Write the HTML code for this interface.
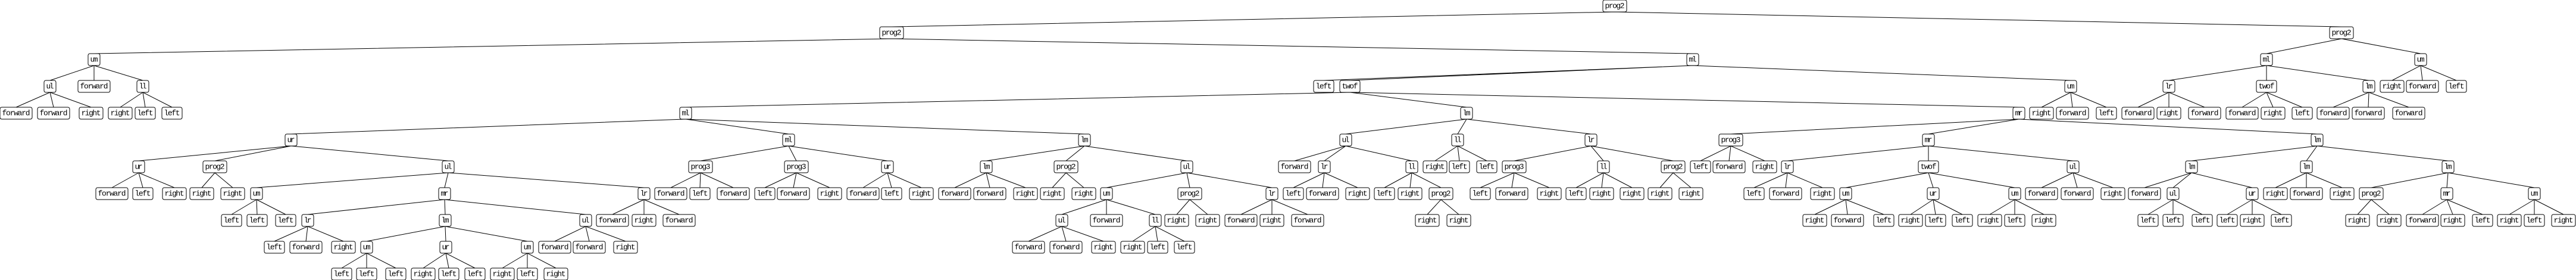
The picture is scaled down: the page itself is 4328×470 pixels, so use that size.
<!DOCTYPE html>
<html><head><meta charset="utf-8"><style>
html,body{margin:0;padding:0;background:#fff;}
svg{display:block;}
rect{fill:#fff;stroke:#000;stroke-width:1;}
text{font-family:"Liberation Mono",monospace;font-size:13px;text-anchor:middle;dominant-baseline:central;fill:#000;}
path{stroke:#000;stroke-width:1;fill:none;}
</style></head><body>
<svg width="4328" height="470" viewBox="0 0 4328 470" xmlns="http://www.w3.org/2000/svg">
<path d="
M2713 20L1498 45M2713 20L3934 45
M1498 65L158 90M1498 65L2844 90
M158 110L84 135M158 110L158 135M158 110L240 135
M84 155L27 180M84 155L90 180M84 155L153 180
M240 155L202 180M240 155L244 180M240 155L289 180
M2844 110L2224 135M2844 110L2268 135M2844 110L3479 135
M2268 155L1152 180M2268 155L2464 180M2268 155L3392 180
M1152 200L489 225M1152 200L1325 225M1152 200L1822 225
M489 245L233 270M489 245L361 270M489 245L753 270
M233 290L188 315M233 290L240 315M233 290L293 315
M361 290L339 315M361 290L391 315
M753 290L431 315M753 290L747 315M753 290L1082 315
M431 335L389 360M431 335L432 360M431 335L480 360
M747 335L517 360M747 335L748 360M747 335L984 360
M517 380L461 405M517 380L514 405M517 380L577 405
M748 380L616 405M748 380L749 405M748 380L886 405
M616 425L574 450M616 425L616 450M616 425L665 450
M749 425L711 450M749 425L754 450M749 425L798 450
M886 425L844 450M886 425L886 450M886 425L934 450
M984 380L932 405M984 380L990 405M984 380L1051 405
M1082 335L1029 360M1082 335L1082 360M1082 335L1141 360
M1325 245L1177 270M1325 245L1338 270M1325 245L1491 270
M1177 290L1127 315M1177 290L1176 315M1177 290L1232 315
M1338 290L1285 315M1338 290L1333 315M1338 290L1394 315
M1491 290L1450 315M1491 290L1498 315M1491 290L1548 315
M1822 245L1657 270M1822 245L1791 270M1822 245L1994 270
M1657 290L1604 315M1657 290L1663 315M1657 290L1723 315
M1791 290L1768 315M1791 290L1821 315
M1994 290L1859 315M1994 290L1999 315M1994 290L2137 315
M1859 335L1784 360M1859 335L1859 360M1859 335L1941 360
M1784 380L1728 405M1784 380L1791 405M1784 380L1854 405
M1941 380L1903 405M1941 380L1945 405M1941 380L1990 405
M1999 335L1977 360M1999 335L2029 360
M2137 335L2085 360M2137 335L2137 360M2137 335L2197 360
M2464 200L2261 225M2464 200L2449 225M2464 200L2673 225
M2261 245L2175 270M2261 245L2225 270M2261 245L2372 270
M2225 290L2173 315M2225 290L2222 315M2225 290L2281 315
M2372 290L2326 315M2372 290L2369 315M2372 290L2421 315
M2421 335L2398 360M2421 335L2451 360
M2449 245L2411 270M2449 245L2452 270M2449 245L2498 270
M2673 245L2544 270M2673 245L2694 270M2673 245L2811 270
M2544 290L2487 315M2544 290L2540 315M2544 290L2603 315
M2694 290L2648 315M2694 290L2691 315M2694 290L2742 315
M2811 290L2789 315M2811 290L2841 315
M3392 200L2908 225M3392 200L3240 225M3392 200L3893 225
M2908 245L2857 270M2908 245L2905 270M2908 245L2965 270
M3240 245L3003 270M3240 245L3240 270M3240 245L3483 270
M3003 290L2947 315M3003 290L3000 315M3003 290L3062 315
M3240 290L3101 315M3240 290L3248 315M3240 290L3385 315
M3101 335L3049 360M3101 335L3104 360M3101 335L3165 360
M3248 335L3210 360M3248 335L3252 360M3248 335L3297 360
M3385 335L3343 360M3385 335L3385 360M3385 335L3434 360
M3483 290L3430 315M3483 290L3490 315M3483 290L3550 315
M3893 245L3682 270M3893 245L3875 270M3893 245L4113 270
M3682 290L3603 315M3682 290L3651 315M3682 290L3784 315
M3651 335L3609 360M3651 335L3651 360M3651 335L3700 360
M3784 335L3742 360M3784 335L3784 360M3784 335L3833 360
M3875 290L3823 315M3875 290L3875 315M3875 290L3935 315
M4113 290L3984 315M4113 290L4111 315M4113 290L4258 315
M3984 335L3961 360M3984 335L4014 360
M4111 335L4070 360M4111 335L4121 360M4111 335L4171 360
M4258 335L4216 360M4258 335L4258 360M4258 335L4307 360
M3479 155L3430 180M3479 155L3482 180M3479 155L3539 180
M3934 65L3808 90M3934 65L4067 90
M3808 110L3644 135M3808 110L3808 135M3808 110L3980 135
M3644 155L3592 180M3644 155L3644 180M3644 155L3704 180
M3808 155L3767 180M3808 155L3819 180M3808 155L3868 180
M3980 155L3920 180M3980 155L3979 180M3980 155L4047 180
M4067 110L4019 135M4067 110L4070 135M4067 110L4127 135
"/>
<!-- row 0 -->
<g transform="translate(2713 10)"><rect x="-20" y="-10" width="40" height="20" rx="3"/><text textLength="33">prog2</text></g>
<!-- row 1 -->
<g transform="translate(1498 55)"><rect x="-20" y="-10" width="40" height="20" rx="3"/><text textLength="33">prog2</text></g>
<g transform="translate(3934 55)"><rect x="-20" y="-10" width="40" height="20" rx="3"/><text textLength="33">prog2</text></g>
<!-- row 2 -->
<g transform="translate(158 100)"><rect x="-10" y="-10" width="20" height="20" rx="3"/><text textLength="13">um</text></g>
<g transform="translate(2844 100)"><rect x="-10" y="-10" width="20" height="20" rx="3"/><text textLength="13">ml</text></g>
<g transform="translate(3808 100)"><rect x="-10" y="-10" width="20" height="20" rx="3"/><text textLength="13">ml</text></g>
<g transform="translate(4067 100)"><rect x="-10" y="-10" width="20" height="20" rx="3"/><text textLength="13">um</text></g>
<!-- row 3 -->
<g transform="translate(84 145)"><rect x="-10" y="-10" width="20" height="20" rx="3"/><text textLength="13">ul</text></g>
<g transform="translate(158 145)"><rect x="-27" y="-10" width="54" height="20" rx="3"/><text textLength="47">forward</text></g>
<g transform="translate(240 145)"><rect x="-10" y="-10" width="20" height="20" rx="3"/><text textLength="13">ll</text></g>
<g transform="translate(2224 145)"><rect x="-17" y="-10" width="34" height="20" rx="3"/><text textLength="27">left</text></g>
<g transform="translate(2268 145)"><rect x="-17" y="-10" width="34" height="20" rx="3"/><text textLength="27">twof</text></g>
<g transform="translate(3479 145)"><rect x="-10" y="-10" width="20" height="20" rx="3"/><text textLength="13">um</text></g>
<g transform="translate(3644 145)"><rect x="-10" y="-10" width="20" height="20" rx="3"/><text textLength="13">lr</text></g>
<g transform="translate(3808 145)"><rect x="-17" y="-10" width="34" height="20" rx="3"/><text textLength="27">twof</text></g>
<g transform="translate(3980 145)"><rect x="-10" y="-10" width="20" height="20" rx="3"/><text textLength="13">lm</text></g>
<g transform="translate(4019 145)"><rect x="-20" y="-10" width="40" height="20" rx="3"/><text textLength="33">right</text></g>
<g transform="translate(4070 145)"><rect x="-27" y="-10" width="54" height="20" rx="3"/><text textLength="47">forward</text></g>
<g transform="translate(4127 145)"><rect x="-17" y="-10" width="34" height="20" rx="3"/><text textLength="27">left</text></g>
<!-- row 4 -->
<g transform="translate(27 190)"><rect x="-27" y="-10" width="54" height="20" rx="3"/><text textLength="47">forward</text></g>
<g transform="translate(90 190)"><rect x="-27" y="-10" width="54" height="20" rx="3"/><text textLength="47">forward</text></g>
<g transform="translate(153 190)"><rect x="-20" y="-10" width="40" height="20" rx="3"/><text textLength="33">right</text></g>
<g transform="translate(202 190)"><rect x="-20" y="-10" width="40" height="20" rx="3"/><text textLength="33">right</text></g>
<g transform="translate(244 190)"><rect x="-17" y="-10" width="34" height="20" rx="3"/><text textLength="27">left</text></g>
<g transform="translate(289 190)"><rect x="-17" y="-10" width="34" height="20" rx="3"/><text textLength="27">left</text></g>
<g transform="translate(1152 190)"><rect x="-10" y="-10" width="20" height="20" rx="3"/><text textLength="13">ml</text></g>
<g transform="translate(2464 190)"><rect x="-10" y="-10" width="20" height="20" rx="3"/><text textLength="13">lm</text></g>
<g transform="translate(3392 190)"><rect x="-10" y="-10" width="20" height="20" rx="3"/><text textLength="13">mr</text></g>
<g transform="translate(3430 190)"><rect x="-20" y="-10" width="40" height="20" rx="3"/><text textLength="33">right</text></g>
<g transform="translate(3482 190)"><rect x="-27" y="-10" width="54" height="20" rx="3"/><text textLength="47">forward</text></g>
<g transform="translate(3539 190)"><rect x="-17" y="-10" width="34" height="20" rx="3"/><text textLength="27">left</text></g>
<g transform="translate(3592 190)"><rect x="-27" y="-10" width="54" height="20" rx="3"/><text textLength="47">forward</text></g>
<g transform="translate(3644 190)"><rect x="-20" y="-10" width="40" height="20" rx="3"/><text textLength="33">right</text></g>
<g transform="translate(3704 190)"><rect x="-27" y="-10" width="54" height="20" rx="3"/><text textLength="47">forward</text></g>
<g transform="translate(3767 190)"><rect x="-27" y="-10" width="54" height="20" rx="3"/><text textLength="47">forward</text></g>
<g transform="translate(3819 190)"><rect x="-20" y="-10" width="40" height="20" rx="3"/><text textLength="33">right</text></g>
<g transform="translate(3868 190)"><rect x="-17" y="-10" width="34" height="20" rx="3"/><text textLength="27">left</text></g>
<g transform="translate(3920 190)"><rect x="-27" y="-10" width="54" height="20" rx="3"/><text textLength="47">forward</text></g>
<g transform="translate(3979 190)"><rect x="-27" y="-10" width="54" height="20" rx="3"/><text textLength="47">forward</text></g>
<g transform="translate(4047 190)"><rect x="-27" y="-10" width="54" height="20" rx="3"/><text textLength="47">forward</text></g>
<!-- row 5 -->
<g transform="translate(489 235)"><rect x="-10" y="-10" width="20" height="20" rx="3"/><text textLength="13">ur</text></g>
<g transform="translate(1325 235)"><rect x="-10" y="-10" width="20" height="20" rx="3"/><text textLength="13">ml</text></g>
<g transform="translate(1822 235)"><rect x="-10" y="-10" width="20" height="20" rx="3"/><text textLength="13">lm</text></g>
<g transform="translate(2261 235)"><rect x="-10" y="-10" width="20" height="20" rx="3"/><text textLength="13">ul</text></g>
<g transform="translate(2449 235)"><rect x="-10" y="-10" width="20" height="20" rx="3"/><text textLength="13">ll</text></g>
<g transform="translate(2673 235)"><rect x="-10" y="-10" width="20" height="20" rx="3"/><text textLength="13">lr</text></g>
<g transform="translate(2908 235)"><rect x="-20" y="-10" width="40" height="20" rx="3"/><text textLength="33">prog3</text></g>
<g transform="translate(3240 235)"><rect x="-10" y="-10" width="20" height="20" rx="3"/><text textLength="13">mr</text></g>
<g transform="translate(3893 235)"><rect x="-10" y="-10" width="20" height="20" rx="3"/><text textLength="13">lm</text></g>
<!-- row 6 -->
<g transform="translate(233 280)"><rect x="-10" y="-10" width="20" height="20" rx="3"/><text textLength="13">ur</text></g>
<g transform="translate(361 280)"><rect x="-20" y="-10" width="40" height="20" rx="3"/><text textLength="33">prog2</text></g>
<g transform="translate(753 280)"><rect x="-10" y="-10" width="20" height="20" rx="3"/><text textLength="13">ul</text></g>
<g transform="translate(1177 280)"><rect x="-20" y="-10" width="40" height="20" rx="3"/><text textLength="33">prog3</text></g>
<g transform="translate(1338 280)"><rect x="-20" y="-10" width="40" height="20" rx="3"/><text textLength="33">prog3</text></g>
<g transform="translate(1491 280)"><rect x="-10" y="-10" width="20" height="20" rx="3"/><text textLength="13">ur</text></g>
<g transform="translate(1657 280)"><rect x="-10" y="-10" width="20" height="20" rx="3"/><text textLength="13">lm</text></g>
<g transform="translate(1791 280)"><rect x="-20" y="-10" width="40" height="20" rx="3"/><text textLength="33">prog2</text></g>
<g transform="translate(1994 280)"><rect x="-10" y="-10" width="20" height="20" rx="3"/><text textLength="13">ul</text></g>
<g transform="translate(2175 280)"><rect x="-27" y="-10" width="54" height="20" rx="3"/><text textLength="47">forward</text></g>
<g transform="translate(2225 280)"><rect x="-10" y="-10" width="20" height="20" rx="3"/><text textLength="13">lr</text></g>
<g transform="translate(2372 280)"><rect x="-10" y="-10" width="20" height="20" rx="3"/><text textLength="13">ll</text></g>
<g transform="translate(2411 280)"><rect x="-20" y="-10" width="40" height="20" rx="3"/><text textLength="33">right</text></g>
<g transform="translate(2452 280)"><rect x="-17" y="-10" width="34" height="20" rx="3"/><text textLength="27">left</text></g>
<g transform="translate(2498 280)"><rect x="-17" y="-10" width="34" height="20" rx="3"/><text textLength="27">left</text></g>
<g transform="translate(2544 280)"><rect x="-20" y="-10" width="40" height="20" rx="3"/><text textLength="33">prog3</text></g>
<g transform="translate(2694 280)"><rect x="-10" y="-10" width="20" height="20" rx="3"/><text textLength="13">ll</text></g>
<g transform="translate(2811 280)"><rect x="-20" y="-10" width="40" height="20" rx="3"/><text textLength="33">prog2</text></g>
<g transform="translate(2857 280)"><rect x="-17" y="-10" width="34" height="20" rx="3"/><text textLength="27">left</text></g>
<g transform="translate(2905 280)"><rect x="-27" y="-10" width="54" height="20" rx="3"/><text textLength="47">forward</text></g>
<g transform="translate(2965 280)"><rect x="-20" y="-10" width="40" height="20" rx="3"/><text textLength="33">right</text></g>
<g transform="translate(3003 280)"><rect x="-10" y="-10" width="20" height="20" rx="3"/><text textLength="13">lr</text></g>
<g transform="translate(3240 280)"><rect x="-17" y="-10" width="34" height="20" rx="3"/><text textLength="27">twof</text></g>
<g transform="translate(3483 280)"><rect x="-10" y="-10" width="20" height="20" rx="3"/><text textLength="13">ul</text></g>
<g transform="translate(3682 280)"><rect x="-10" y="-10" width="20" height="20" rx="3"/><text textLength="13">lm</text></g>
<g transform="translate(3875 280)"><rect x="-10" y="-10" width="20" height="20" rx="3"/><text textLength="13">lm</text></g>
<g transform="translate(4113 280)"><rect x="-10" y="-10" width="20" height="20" rx="3"/><text textLength="13">lm</text></g>
<!-- row 7 -->
<g transform="translate(188 325)"><rect x="-27" y="-10" width="54" height="20" rx="3"/><text textLength="47">forward</text></g>
<g transform="translate(240 325)"><rect x="-17" y="-10" width="34" height="20" rx="3"/><text textLength="27">left</text></g>
<g transform="translate(293 325)"><rect x="-20" y="-10" width="40" height="20" rx="3"/><text textLength="33">right</text></g>
<g transform="translate(339 325)"><rect x="-20" y="-10" width="40" height="20" rx="3"/><text textLength="33">right</text></g>
<g transform="translate(391 325)"><rect x="-20" y="-10" width="40" height="20" rx="3"/><text textLength="33">right</text></g>
<g transform="translate(431 325)"><rect x="-10" y="-10" width="20" height="20" rx="3"/><text textLength="13">um</text></g>
<g transform="translate(747 325)"><rect x="-10" y="-10" width="20" height="20" rx="3"/><text textLength="13">mr</text></g>
<g transform="translate(1082 325)"><rect x="-10" y="-10" width="20" height="20" rx="3"/><text textLength="13">lr</text></g>
<g transform="translate(1127 325)"><rect x="-27" y="-10" width="54" height="20" rx="3"/><text textLength="47">forward</text></g>
<g transform="translate(1176 325)"><rect x="-17" y="-10" width="34" height="20" rx="3"/><text textLength="27">left</text></g>
<g transform="translate(1232 325)"><rect x="-27" y="-10" width="54" height="20" rx="3"/><text textLength="47">forward</text></g>
<g transform="translate(1285 325)"><rect x="-17" y="-10" width="34" height="20" rx="3"/><text textLength="27">left</text></g>
<g transform="translate(1333 325)"><rect x="-27" y="-10" width="54" height="20" rx="3"/><text textLength="47">forward</text></g>
<g transform="translate(1394 325)"><rect x="-20" y="-10" width="40" height="20" rx="3"/><text textLength="33">right</text></g>
<g transform="translate(1450 325)"><rect x="-27" y="-10" width="54" height="20" rx="3"/><text textLength="47">forward</text></g>
<g transform="translate(1498 325)"><rect x="-17" y="-10" width="34" height="20" rx="3"/><text textLength="27">left</text></g>
<g transform="translate(1548 325)"><rect x="-20" y="-10" width="40" height="20" rx="3"/><text textLength="33">right</text></g>
<g transform="translate(1604 325)"><rect x="-27" y="-10" width="54" height="20" rx="3"/><text textLength="47">forward</text></g>
<g transform="translate(1663 325)"><rect x="-27" y="-10" width="54" height="20" rx="3"/><text textLength="47">forward</text></g>
<g transform="translate(1723 325)"><rect x="-20" y="-10" width="40" height="20" rx="3"/><text textLength="33">right</text></g>
<g transform="translate(1768 325)"><rect x="-20" y="-10" width="40" height="20" rx="3"/><text textLength="33">right</text></g>
<g transform="translate(1821 325)"><rect x="-20" y="-10" width="40" height="20" rx="3"/><text textLength="33">right</text></g>
<g transform="translate(1859 325)"><rect x="-10" y="-10" width="20" height="20" rx="3"/><text textLength="13">um</text></g>
<g transform="translate(1999 325)"><rect x="-20" y="-10" width="40" height="20" rx="3"/><text textLength="33">prog2</text></g>
<g transform="translate(2137 325)"><rect x="-10" y="-10" width="20" height="20" rx="3"/><text textLength="13">lr</text></g>
<g transform="translate(2173 325)"><rect x="-17" y="-10" width="34" height="20" rx="3"/><text textLength="27">left</text></g>
<g transform="translate(2222 325)"><rect x="-27" y="-10" width="54" height="20" rx="3"/><text textLength="47">forward</text></g>
<g transform="translate(2281 325)"><rect x="-20" y="-10" width="40" height="20" rx="3"/><text textLength="33">right</text></g>
<g transform="translate(2326 325)"><rect x="-17" y="-10" width="34" height="20" rx="3"/><text textLength="27">left</text></g>
<g transform="translate(2369 325)"><rect x="-20" y="-10" width="40" height="20" rx="3"/><text textLength="33">right</text></g>
<g transform="translate(2421 325)"><rect x="-20" y="-10" width="40" height="20" rx="3"/><text textLength="33">prog2</text></g>
<g transform="translate(2487 325)"><rect x="-17" y="-10" width="34" height="20" rx="3"/><text textLength="27">left</text></g>
<g transform="translate(2540 325)"><rect x="-27" y="-10" width="54" height="20" rx="3"/><text textLength="47">forward</text></g>
<g transform="translate(2603 325)"><rect x="-20" y="-10" width="40" height="20" rx="3"/><text textLength="33">right</text></g>
<g transform="translate(2648 325)"><rect x="-17" y="-10" width="34" height="20" rx="3"/><text textLength="27">left</text></g>
<g transform="translate(2691 325)"><rect x="-20" y="-10" width="40" height="20" rx="3"/><text textLength="33">right</text></g>
<g transform="translate(2742 325)"><rect x="-20" y="-10" width="40" height="20" rx="3"/><text textLength="33">right</text></g>
<g transform="translate(2789 325)"><rect x="-20" y="-10" width="40" height="20" rx="3"/><text textLength="33">right</text></g>
<g transform="translate(2841 325)"><rect x="-20" y="-10" width="40" height="20" rx="3"/><text textLength="33">right</text></g>
<g transform="translate(2947 325)"><rect x="-17" y="-10" width="34" height="20" rx="3"/><text textLength="27">left</text></g>
<g transform="translate(3000 325)"><rect x="-27" y="-10" width="54" height="20" rx="3"/><text textLength="47">forward</text></g>
<g transform="translate(3062 325)"><rect x="-20" y="-10" width="40" height="20" rx="3"/><text textLength="33">right</text></g>
<g transform="translate(3101 325)"><rect x="-10" y="-10" width="20" height="20" rx="3"/><text textLength="13">um</text></g>
<g transform="translate(3248 325)"><rect x="-10" y="-10" width="20" height="20" rx="3"/><text textLength="13">ur</text></g>
<g transform="translate(3385 325)"><rect x="-10" y="-10" width="20" height="20" rx="3"/><text textLength="13">um</text></g>
<g transform="translate(3430 325)"><rect x="-27" y="-10" width="54" height="20" rx="3"/><text textLength="47">forward</text></g>
<g transform="translate(3490 325)"><rect x="-27" y="-10" width="54" height="20" rx="3"/><text textLength="47">forward</text></g>
<g transform="translate(3550 325)"><rect x="-20" y="-10" width="40" height="20" rx="3"/><text textLength="33">right</text></g>
<g transform="translate(3603 325)"><rect x="-27" y="-10" width="54" height="20" rx="3"/><text textLength="47">forward</text></g>
<g transform="translate(3651 325)"><rect x="-10" y="-10" width="20" height="20" rx="3"/><text textLength="13">ul</text></g>
<g transform="translate(3784 325)"><rect x="-10" y="-10" width="20" height="20" rx="3"/><text textLength="13">ur</text></g>
<g transform="translate(3823 325)"><rect x="-20" y="-10" width="40" height="20" rx="3"/><text textLength="33">right</text></g>
<g transform="translate(3875 325)"><rect x="-27" y="-10" width="54" height="20" rx="3"/><text textLength="47">forward</text></g>
<g transform="translate(3935 325)"><rect x="-20" y="-10" width="40" height="20" rx="3"/><text textLength="33">right</text></g>
<g transform="translate(3984 325)"><rect x="-20" y="-10" width="40" height="20" rx="3"/><text textLength="33">prog2</text></g>
<g transform="translate(4111 325)"><rect x="-10" y="-10" width="20" height="20" rx="3"/><text textLength="13">mr</text></g>
<g transform="translate(4258 325)"><rect x="-10" y="-10" width="20" height="20" rx="3"/><text textLength="13">um</text></g>
<!-- row 8 -->
<g transform="translate(389 370)"><rect x="-17" y="-10" width="34" height="20" rx="3"/><text textLength="27">left</text></g>
<g transform="translate(432 370)"><rect x="-17" y="-10" width="34" height="20" rx="3"/><text textLength="27">left</text></g>
<g transform="translate(480 370)"><rect x="-17" y="-10" width="34" height="20" rx="3"/><text textLength="27">left</text></g>
<g transform="translate(517 370)"><rect x="-10" y="-10" width="20" height="20" rx="3"/><text textLength="13">lr</text></g>
<g transform="translate(748 370)"><rect x="-10" y="-10" width="20" height="20" rx="3"/><text textLength="13">lm</text></g>
<g transform="translate(984 370)"><rect x="-10" y="-10" width="20" height="20" rx="3"/><text textLength="13">ul</text></g>
<g transform="translate(1029 370)"><rect x="-27" y="-10" width="54" height="20" rx="3"/><text textLength="47">forward</text></g>
<g transform="translate(1082 370)"><rect x="-20" y="-10" width="40" height="20" rx="3"/><text textLength="33">right</text></g>
<g transform="translate(1141 370)"><rect x="-27" y="-10" width="54" height="20" rx="3"/><text textLength="47">forward</text></g>
<g transform="translate(1784 370)"><rect x="-10" y="-10" width="20" height="20" rx="3"/><text textLength="13">ul</text></g>
<g transform="translate(1859 370)"><rect x="-27" y="-10" width="54" height="20" rx="3"/><text textLength="47">forward</text></g>
<g transform="translate(1941 370)"><rect x="-10" y="-10" width="20" height="20" rx="3"/><text textLength="13">ll</text></g>
<g transform="translate(1977 370)"><rect x="-20" y="-10" width="40" height="20" rx="3"/><text textLength="33">right</text></g>
<g transform="translate(2029 370)"><rect x="-20" y="-10" width="40" height="20" rx="3"/><text textLength="33">right</text></g>
<g transform="translate(2085 370)"><rect x="-27" y="-10" width="54" height="20" rx="3"/><text textLength="47">forward</text></g>
<g transform="translate(2137 370)"><rect x="-20" y="-10" width="40" height="20" rx="3"/><text textLength="33">right</text></g>
<g transform="translate(2197 370)"><rect x="-27" y="-10" width="54" height="20" rx="3"/><text textLength="47">forward</text></g>
<g transform="translate(2398 370)"><rect x="-20" y="-10" width="40" height="20" rx="3"/><text textLength="33">right</text></g>
<g transform="translate(2451 370)"><rect x="-20" y="-10" width="40" height="20" rx="3"/><text textLength="33">right</text></g>
<g transform="translate(3049 370)"><rect x="-20" y="-10" width="40" height="20" rx="3"/><text textLength="33">right</text></g>
<g transform="translate(3104 370)"><rect x="-27" y="-10" width="54" height="20" rx="3"/><text textLength="47">forward</text></g>
<g transform="translate(3165 370)"><rect x="-17" y="-10" width="34" height="20" rx="3"/><text textLength="27">left</text></g>
<g transform="translate(3210 370)"><rect x="-20" y="-10" width="40" height="20" rx="3"/><text textLength="33">right</text></g>
<g transform="translate(3252 370)"><rect x="-17" y="-10" width="34" height="20" rx="3"/><text textLength="27">left</text></g>
<g transform="translate(3297 370)"><rect x="-17" y="-10" width="34" height="20" rx="3"/><text textLength="27">left</text></g>
<g transform="translate(3343 370)"><rect x="-20" y="-10" width="40" height="20" rx="3"/><text textLength="33">right</text></g>
<g transform="translate(3385 370)"><rect x="-17" y="-10" width="34" height="20" rx="3"/><text textLength="27">left</text></g>
<g transform="translate(3434 370)"><rect x="-20" y="-10" width="40" height="20" rx="3"/><text textLength="33">right</text></g>
<g transform="translate(3609 370)"><rect x="-17" y="-10" width="34" height="20" rx="3"/><text textLength="27">left</text></g>
<g transform="translate(3651 370)"><rect x="-17" y="-10" width="34" height="20" rx="3"/><text textLength="27">left</text></g>
<g transform="translate(3700 370)"><rect x="-17" y="-10" width="34" height="20" rx="3"/><text textLength="27">left</text></g>
<g transform="translate(3742 370)"><rect x="-17" y="-10" width="34" height="20" rx="3"/><text textLength="27">left</text></g>
<g transform="translate(3784 370)"><rect x="-20" y="-10" width="40" height="20" rx="3"/><text textLength="33">right</text></g>
<g transform="translate(3833 370)"><rect x="-17" y="-10" width="34" height="20" rx="3"/><text textLength="27">left</text></g>
<g transform="translate(3961 370)"><rect x="-20" y="-10" width="40" height="20" rx="3"/><text textLength="33">right</text></g>
<g transform="translate(4014 370)"><rect x="-20" y="-10" width="40" height="20" rx="3"/><text textLength="33">right</text></g>
<g transform="translate(4070 370)"><rect x="-27" y="-10" width="54" height="20" rx="3"/><text textLength="47">forward</text></g>
<g transform="translate(4121 370)"><rect x="-20" y="-10" width="40" height="20" rx="3"/><text textLength="33">right</text></g>
<g transform="translate(4171 370)"><rect x="-17" y="-10" width="34" height="20" rx="3"/><text textLength="27">left</text></g>
<g transform="translate(4216 370)"><rect x="-20" y="-10" width="40" height="20" rx="3"/><text textLength="33">right</text></g>
<g transform="translate(4258 370)"><rect x="-17" y="-10" width="34" height="20" rx="3"/><text textLength="27">left</text></g>
<g transform="translate(4307 370)"><rect x="-20" y="-10" width="40" height="20" rx="3"/><text textLength="33">right</text></g>
<!-- row 9 -->
<g transform="translate(461 415)"><rect x="-17" y="-10" width="34" height="20" rx="3"/><text textLength="27">left</text></g>
<g transform="translate(514 415)"><rect x="-27" y="-10" width="54" height="20" rx="3"/><text textLength="47">forward</text></g>
<g transform="translate(577 415)"><rect x="-20" y="-10" width="40" height="20" rx="3"/><text textLength="33">right</text></g>
<g transform="translate(616 415)"><rect x="-10" y="-10" width="20" height="20" rx="3"/><text textLength="13">um</text></g>
<g transform="translate(749 415)"><rect x="-10" y="-10" width="20" height="20" rx="3"/><text textLength="13">ur</text></g>
<g transform="translate(886 415)"><rect x="-10" y="-10" width="20" height="20" rx="3"/><text textLength="13">um</text></g>
<g transform="translate(932 415)"><rect x="-27" y="-10" width="54" height="20" rx="3"/><text textLength="47">forward</text></g>
<g transform="translate(990 415)"><rect x="-27" y="-10" width="54" height="20" rx="3"/><text textLength="47">forward</text></g>
<g transform="translate(1051 415)"><rect x="-20" y="-10" width="40" height="20" rx="3"/><text textLength="33">right</text></g>
<g transform="translate(1728 415)"><rect x="-27" y="-10" width="54" height="20" rx="3"/><text textLength="47">forward</text></g>
<g transform="translate(1791 415)"><rect x="-27" y="-10" width="54" height="20" rx="3"/><text textLength="47">forward</text></g>
<g transform="translate(1854 415)"><rect x="-20" y="-10" width="40" height="20" rx="3"/><text textLength="33">right</text></g>
<g transform="translate(1903 415)"><rect x="-20" y="-10" width="40" height="20" rx="3"/><text textLength="33">right</text></g>
<g transform="translate(1945 415)"><rect x="-17" y="-10" width="34" height="20" rx="3"/><text textLength="27">left</text></g>
<g transform="translate(1990 415)"><rect x="-17" y="-10" width="34" height="20" rx="3"/><text textLength="27">left</text></g>
<!-- row 10 -->
<g transform="translate(574 460)"><rect x="-17" y="-10" width="34" height="20" rx="3"/><text textLength="27">left</text></g>
<g transform="translate(616 460)"><rect x="-17" y="-10" width="34" height="20" rx="3"/><text textLength="27">left</text></g>
<g transform="translate(665 460)"><rect x="-17" y="-10" width="34" height="20" rx="3"/><text textLength="27">left</text></g>
<g transform="translate(711 460)"><rect x="-20" y="-10" width="40" height="20" rx="3"/><text textLength="33">right</text></g>
<g transform="translate(754 460)"><rect x="-17" y="-10" width="34" height="20" rx="3"/><text textLength="27">left</text></g>
<g transform="translate(798 460)"><rect x="-17" y="-10" width="34" height="20" rx="3"/><text textLength="27">left</text></g>
<g transform="translate(844 460)"><rect x="-20" y="-10" width="40" height="20" rx="3"/><text textLength="33">right</text></g>
<g transform="translate(886 460)"><rect x="-17" y="-10" width="34" height="20" rx="3"/><text textLength="27">left</text></g>
<g transform="translate(934 460)"><rect x="-20" y="-10" width="40" height="20" rx="3"/><text textLength="33">right</text></g>
</svg>
</body></html>
